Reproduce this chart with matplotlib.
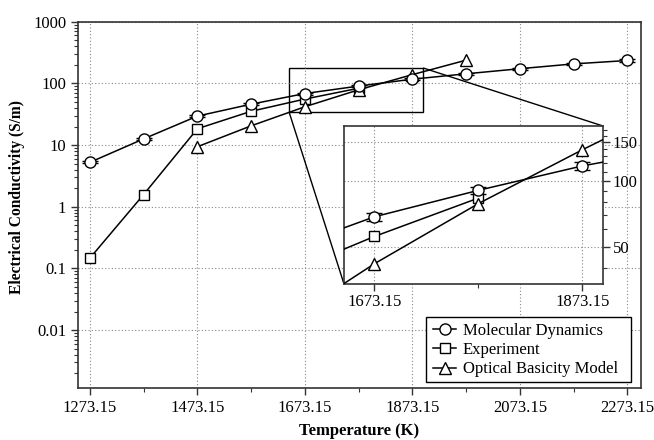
import matplotlib
matplotlib.use('Agg')
import matplotlib.pyplot as plt
from matplotlib.lines import Line2D
from matplotlib.patches import Rectangle
from matplotlib.ticker import FixedLocator, FixedFormatter, LogLocator, NullFormatter
from mpl_toolkits.axes_grid1.inset_locator import mark_inset

plt.rcParams['font.family'] = ['Liberation Serif', 'DejaVu Serif']

# ---- data ----
md_T = [1273.15, 1373.15, 1473.15, 1573.15, 1673.15, 1773.15, 1873.15, 1973.15, 2073.15, 2173.15, 2273.15]
md_sigma = [5.25, 12.6, 29.5, 46.0, 68.5, 90.5, 117.0, 143.0, 173.0, 207.0, 235.0]
md_err = [0.2, 0.5, 1.1, 1.7, 2.6, 3.4, 4.4, 5.4, 6.5, 7.8, 8.9]

exp_T = [1273.15, 1373.15, 1473.15, 1573.15, 1673.15, 1773.15]
exp_sigma = [0.147, 1.58, 18.4, 35.3, 55.7, 83.4]

obm_T = [1473.15, 1573.15, 1673.15, 1773.15, 1873.15, 1973.15]
obm_sigma = [9.4, 20.5, 41.8, 78.7, 138.6, 238.0]

x_major = [1273.15, 1473.15, 1673.15, 1873.15, 2073.15, 2273.15]
x_minor = [1373.15, 1573.15, 1773.15, 1973.15, 2173.15]
y_major = [0.01, 0.1, 1, 10, 100, 1000]
y_labels = ['0.01', '0.1', '1', '10', '100', '1000']

ins_x_major = [1673.15, 1873.15]
ins_x_minor = [1773.15]
ins_y_major = [50, 100, 150]
ins_y_labels = ['50', '100', '150']
ins_y_minor = [40, 60, 70, 80, 90, 110, 120, 130, 140, 160, 170]

labels = ['Molecular Dynamics', 'Experiment', 'Optical Basicity Model']

FS = 12
LW = 1.1
MS = 8


def draw(a):
    a.errorbar(md_T, md_sigma, yerr=md_err, fmt='-o', color='black', mfc='white',
               mec='black', ms=MS, lw=LW, mew=1.0, capsize=5.5, elinewidth=1.0,
               capthick=1.0, zorder=3)
    a.plot(exp_T, exp_sigma, '-s', color='black', mfc='white', mec='black',
           ms=7.5, lw=LW, mew=1.0, zorder=3)
    a.plot(obm_T, obm_sigma, '-^', color='black', mfc='white', mec='black',
           ms=8.5, lw=LW, mew=1.0, zorder=3)


fig = plt.figure(figsize=(6.54, 4.40), dpi=100)
AX_L, AX_R, AX_T, AX_B = 78, 640.7, 21.7, 388.3
ax = fig.add_axes([AX_L / 654, 1 - AX_B / 440, (AX_R - AX_L) / 654, (AX_B - AX_T) / 440])
draw(ax)
ax.set_yscale('log')
ax.set_xlim(1251, 2298)
ax.set_ylim(1.14e-3, 1000)
ax.xaxis.set_major_locator(FixedLocator(x_major))
ax.xaxis.set_major_formatter(FixedFormatter(['%.2f' % v for v in x_major]))
ax.xaxis.set_minor_locator(FixedLocator(x_minor))
ax.yaxis.set_major_locator(FixedLocator(y_major))
ax.yaxis.set_major_formatter(FixedFormatter(y_labels))
ax.yaxis.set_minor_locator(LogLocator(base=10, subs=[2, 3, 4, 5, 6, 7, 8, 9]))
ax.yaxis.set_minor_formatter(NullFormatter())
ax.tick_params(which='both', direction='out', labelsize=FS, color='#333333')
ax.tick_params(which='major', length=5, width=1.0)
ax.tick_params(which='minor', length=3, width=0.8)
ax.grid(True, which='major', linestyle=(0, (1, 2)), color='#888888', lw=0.8)
for s in ax.spines.values():
    s.set_color('#333333')
    s.set_linewidth(1.2)
ax.set_xlabel('Temperature (K)', fontsize=FS, fontweight='bold')
ax.set_ylabel('Electrical Conductivity (S/m)', fontsize=11.2, fontweight='bold')
ax.xaxis.set_label_coords(0.5, -0.095)
ax.yaxis.set_label_coords((25 - AX_L) / (AX_R - AX_L), 0.523)

def ax_x(px):
    return (px - AX_L) / (AX_R - AX_L)

def ax_y(py):
    return (AX_B - py) / (AX_B - AX_T)

handles = [
    Line2D([], [], color='black', lw=LW, marker='o', ms=MS, mfc='white', mec='black'),
    Line2D([], [], color='black', lw=LW, marker='s', ms=7.5, mfc='white', mec='black'),
    Line2D([], [], color='black', lw=LW, marker='^', ms=8.5, mfc='white', mec='black'),
]
ax.add_patch(Rectangle((ax_x(426), ax_y(382)), ax_x(631) - ax_x(426), ax_y(317) - ax_y(382),
                       transform=ax.transAxes, fc='white', ec='black', lw=1.0, zorder=5))
leg = ax.legend(handles, labels, loc='center left', bbox_to_anchor=(ax_x(433), ax_y(350)),
                borderaxespad=0, borderpad=0, fontsize=FS, frameon=False,
                handlelength=1.4, handletextpad=0.4, labelspacing=0.2)
leg.set_zorder(6)

# ---- inset ----
axins = fig.add_axes([344 / 654, 1 - 284 / 440, (603 - 344) / 654, (284 - 126) / 440])
draw(axins)
axins.set_yscale('log')
axins.set_xlim(1644, 1893)
axins.set_ylim(33.8, 178)
axins.xaxis.set_major_locator(FixedLocator(ins_x_major))
axins.xaxis.set_major_formatter(FixedFormatter(['%.2f' % v for v in ins_x_major]))
axins.xaxis.set_minor_locator(FixedLocator(ins_x_minor))
axins.yaxis.tick_right()
axins.yaxis.set_major_locator(FixedLocator(ins_y_major))
axins.yaxis.set_major_formatter(FixedFormatter(ins_y_labels))
axins.yaxis.set_minor_locator(FixedLocator(ins_y_minor))
axins.yaxis.set_minor_formatter(NullFormatter())
axins.tick_params(which='both', direction='out', labelsize=FS, color='#333333')
axins.tick_params(which='major', length=5, width=1.0, pad=2)
axins.tick_params(which='minor', length=3, width=0.8)
axins.grid(True, which='major', linestyle=(0, (1, 2)), color='#888888', lw=0.8)
for s in axins.spines.values():
    s.set_color('#333333')
    s.set_linewidth(1.2)

mark_inset(ax, axins, loc1=1, loc2=3, fc='none', ec='black', lw=1.0)

fig.savefig('out.png', dpi=100)
